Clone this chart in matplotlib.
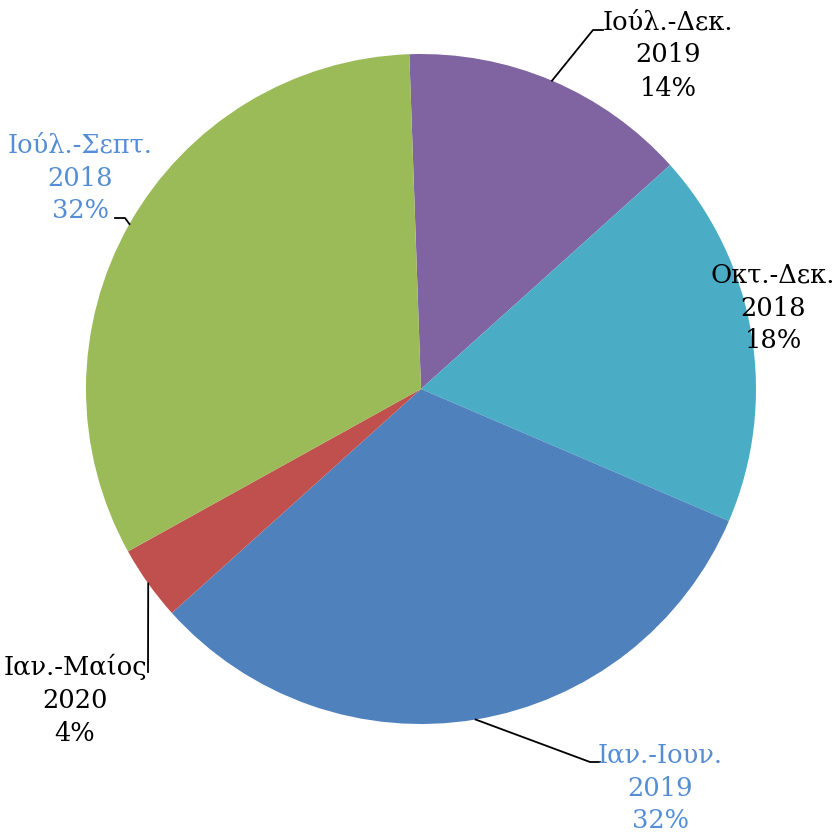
import numpy as np
import matplotlib.pyplot as plt

# share of each period, clockwise from the top
periods = ['Ιούλ.-Δεκ.\n2019', 'Οκτ.-Δεκ.\n2018', 'Ιαν.-Ιουν.\n2019',
           'Ιαν.-Μαίος\n2020', 'Ιούλ.-Σεπτ.\n2018']
shares = [13.9, 18.1, 31.9, 3.6, 32.5]
colors = ['#8064A2', '#4BACC6', '#4F81BD', '#C0504D', '#9BBB59']
label_colors = ['black', 'black', '#558ED5', 'black', '#558ED5']

W, H = 836, 835
fig = plt.figure(figsize=(W / 100, H / 100), dpi=100)
ax = fig.add_axes([0, 0, 1, 1])

cx, cy, r = 421, H - 389, 335
wedges, _ = ax.pie(shares, colors=colors, startangle=92, counterclock=False,
                   center=(cx, cy), radius=r, frame=True)
ax.set_xlim(0, W)
ax.set_ylim(0, H)
ax.set_aspect('equal')
ax.axis('off')

# label anchor (text centre) and leader elbow for each slice, in pixels
text_pos = [(668, 55), (773, 308), (660, 788), (75, 700), (80, 178)]
elbows = [[(593, 30), (603, 30)], None, [(590, 762), (600, 762)],
          [(148, 672)], [(125, 218), (115, 218)]]

for w, lab, v, tc, tp, el in zip(wedges, periods, shares, label_colors,
                                 text_pos, elbows):
    pct = 100 * v / sum(shares)
    ax.text(tp[0], H - tp[1], '%s\n%.0f%%' % (lab, pct), ha='center',
            va='center', fontsize=18.5, family='DejaVu Serif', color=tc,
            linespacing=1.4)
    if el is None:
        continue
    mid = np.deg2rad((w.theta1 + w.theta2) / 2)
    pts = [(cx + r * np.cos(mid), cy + r * np.sin(mid))]
    pts += [(x, H - y) for x, y in el]
    xs, ys = zip(*pts)
    ax.plot(xs, ys, color='black', lw=1.3)

fig.savefig('out.png', dpi=100)
